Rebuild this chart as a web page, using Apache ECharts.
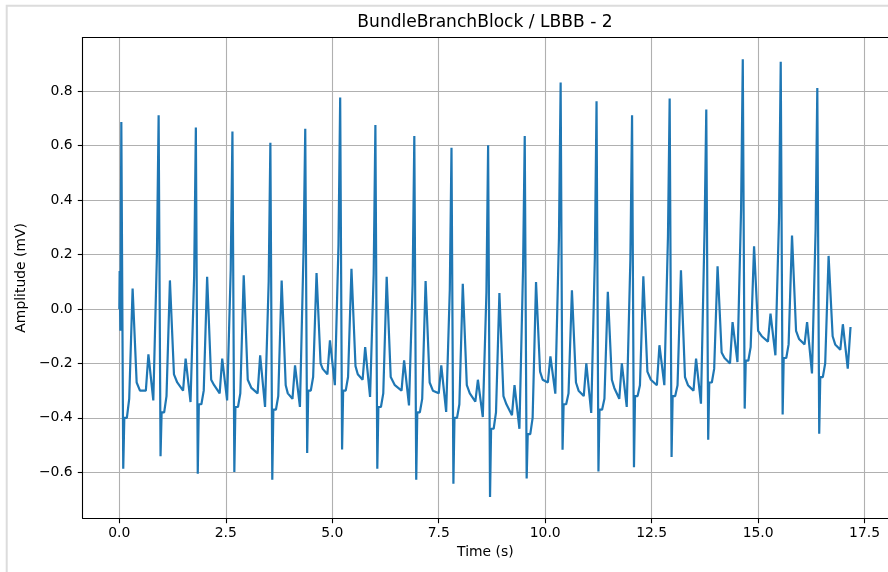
<!DOCTYPE html>
<html>
<head>
<meta charset="utf-8">
<script src="https://cdn.jsdelivr.net/npm/echarts@6/dist/echarts.min.js"></script>
<style>
html,body{margin:0;padding:0;background:#fff;}
#c{width:888px;height:572px;}
</style>
</head>
<body>
<div id="c"></div>
<script>
// ---- data (time in s, amplitude in mV) ----
const rTime    = [0.047, 0.923, 1.797, 2.656, 3.547, 4.366, 5.186, 6.013, 6.927, 7.800,
                  8.660, 9.520, 10.363, 11.206, 12.040, 12.923, 13.783, 14.640, 15.531, 16.390];
const rAmp     = [0.687, 0.712, 0.667, 0.652, 0.611, 0.662, 0.777, 0.676, 0.636, 0.592,
                  0.602, 0.636, 0.832, 0.763, 0.712, 0.773, 0.733, 0.918, 0.908, 0.812];
const sAmp     = [-0.587, -0.541, -0.605, -0.599, -0.627, -0.529, -0.516, -0.587, -0.627, -0.642,
                  -0.691, -0.623, -0.517, -0.597, -0.581, -0.544, -0.480, -0.366, -0.388, -0.458];
const platAmp  = [-0.40, -0.38, -0.35, -0.36, -0.37, -0.30, -0.30, -0.36, -0.38, -0.40,
                  -0.44, -0.46, -0.35, -0.37, -0.32, -0.32, -0.27, -0.19, -0.18, -0.25];
const riseAmp  = [-0.33, -0.32, -0.30, -0.31, -0.32, -0.25, -0.25, -0.31, -0.33, -0.35,
                  -0.38, -0.40, -0.31, -0.33, -0.28, -0.28, -0.22, -0.14, -0.13, -0.20];
const tAmp     = [0.075, 0.105, 0.118, 0.124, 0.105, 0.132, 0.148, 0.118, 0.103, 0.093,
                  0.059, 0.099, 0.069, 0.063, 0.120, 0.142, 0.157, 0.230, 0.270, 0.195];
const shoulder = [0.14, 0.20, 0.12, 0.145, 0.10, 0.216, 0.234, 0.13, 0.09, 0.07,
                  0.06, 0.145, 0.26, 0.186, 0.18, 0.265, 0.296, 0.366, 0.334, 0.29];
const baseA    = [-0.27, -0.24, -0.26, -0.26, -0.28, -0.20, -0.21, -0.25, -0.27, -0.28,
                  -0.32, -0.23, -0.27, -0.26, -0.23, -0.25, -0.16, -0.08, -0.08, -0.10];
const baseM    = [-0.30, -0.27, -0.28, -0.29, -0.31, -0.22, -0.24, -0.28, -0.30, -0.31,
                  -0.35, -0.26, -0.30, -0.29, -0.26, -0.28, -0.18, -0.10, -0.11, -0.13];
const baseB    = [-0.30, -0.30, -0.31, -0.31, -0.33, -0.24, -0.26, -0.30, -0.31, -0.34,
                  -0.39, -0.27, -0.32, -0.33, -0.28, -0.30, -0.20, -0.12, -0.13, -0.15];
const pAmp     = [-0.167, -0.182, -0.182, -0.170, -0.207, -0.115, -0.140, -0.189, -0.207, -0.260,
                  -0.280, -0.174, -0.200, -0.200, -0.133, -0.182, -0.048, -0.017, -0.048, -0.056];
const dipAmp   = [-0.336, -0.342, -0.336, -0.360, -0.360, -0.280, -0.323, -0.354, -0.378, -0.397,
                  -0.440, -0.311, -0.382, -0.360, -0.280, -0.348, -0.195, -0.170, -0.237, -0.219];
const startPts = [[0.000, 0.00], [0.008, 0.14], [0.025, -0.08]];
const endPts   = [[17.17, -0.066]];
const nextBeatAfterLast = 17.23;

const xTicks = [0, 2.5, 5, 7.5, 10, 12.5, 15, 17.5];
const yTicks = [-0.6, -0.4, -0.2, 0, 0.2, 0.4, 0.6, 0.8];

// ---- assemble the trace from the read values ----
const pts = startPts.slice();
for (let i = 0; i < rTime.length; i++) {
  const r = rTime[i];
  const nr = i < rTime.length - 1 ? rTime[i + 1] : nextBeatAfterLast;
  if (i > 0) pts.push([r - 0.04, shoulder[i]]);
  pts.push([r, rAmp[i]]);
  pts.push([r + 0.045, sAmp[i]]);
  pts.push([r + 0.07, platAmp[i]]);
  pts.push([r + 0.13, platAmp[i]]);
  pts.push([r + 0.185, riseAmp[i]]);
  pts.push([r + 0.265, tAmp[i]]);
  pts.push([r + 0.36, baseA[i]]);
  pts.push([(r + nr) / 2, baseM[i]]);
  pts.push([nr - 0.30, baseB[i]]);
  pts.push([nr - 0.24, pAmp[i]]);
  pts.push([nr - 0.125, dipAmp[i]]);
}
endPts.forEach(p => pts.push(p));

const FONT = 'DejaVu Sans';
const fmtX = v => v.toFixed(1);
const fmtY = v => (v < -1e-9 ? '\u2212' : '') + Math.abs(v).toFixed(1);

const chart = echarts.init(document.getElementById('c'), null, {renderer: 'canvas'});
chart.setOption({
  animation: false,
  backgroundColor: '#fff',
  textStyle: {fontFamily: FONT},
  grid: {left: 82.7, top: 37.5, width: 808, height: 480.8, containLabel: false},
  graphic: [
    {type: 'rect', shape: {x: 6.7, y: 5.7, width: 1000, height: 1000},
     style: {fill: null, stroke: '#dcdcdc', lineWidth: 2}, silent: true, z: -10},
    {type: 'text', x: 485, y: 22.5,
     style: {text: 'BundleBranchBlock / LBBB - 2', fontFamily: FONT, fontSize: 17.1,
             fill: '#000', align: 'center', verticalAlign: 'middle'}}
  ],
  xAxis: [{
    type: 'value', min: -0.86, max: 18.05,
    name: 'Time (s)', nameLocation: 'middle', nameGap: 27,
    nameTextStyle: {fontFamily: FONT, fontSize: 13.9, color: '#000'},
    axisLine: {show: true, onZero: false, lineStyle: {color: '#000', width: 1.1}},
    axisTick: {show: true, length: 4.9, lineStyle: {color: '#000', width: 1.1}, customValues: xTicks},
    axisLabel: {fontFamily: FONT, fontSize: 13.9, color: '#000', margin: 8, customValues: xTicks, formatter: fmtX},
    splitLine: {show: true, lineStyle: {color: '#b0b0b0', width: 1.1}}
  }, {
    type: 'value', position: 'top', min: -0.86, max: 18.05,
    axisLine: {show: true, onZero: false, lineStyle: {color: '#000', width: 1.1}},
    axisTick: {show: false}, axisLabel: {show: false}, splitLine: {show: false}
  }],
  yAxis: [{
    type: 'value', min: -0.769, max: 0.9975,
    name: 'Amplitude (mV)', nameLocation: 'middle', nameGap: 52, nameRotate: 90,
    nameTextStyle: {fontFamily: FONT, fontSize: 13.9, color: '#000'},
    axisLine: {show: true, onZero: false, lineStyle: {color: '#000', width: 1.1}},
    axisTick: {show: true, length: 4.9, lineStyle: {color: '#000', width: 1.1}, customValues: yTicks},
    axisLabel: {fontFamily: FONT, fontSize: 13.9, color: '#000', margin: 10, customValues: yTicks, formatter: fmtY},
    splitLine: {show: true, lineStyle: {color: '#b0b0b0', width: 1.1}}
  }],
  series: [{
    type: 'line', data: pts, xAxisIndex: 0, yAxisIndex: 0,
    showSymbol: false, symbol: 'none', clip: true,
    lineStyle: {color: '#1f77b4', width: 2.2}, z: 5
  }]
});
</script>
</body>
</html>
